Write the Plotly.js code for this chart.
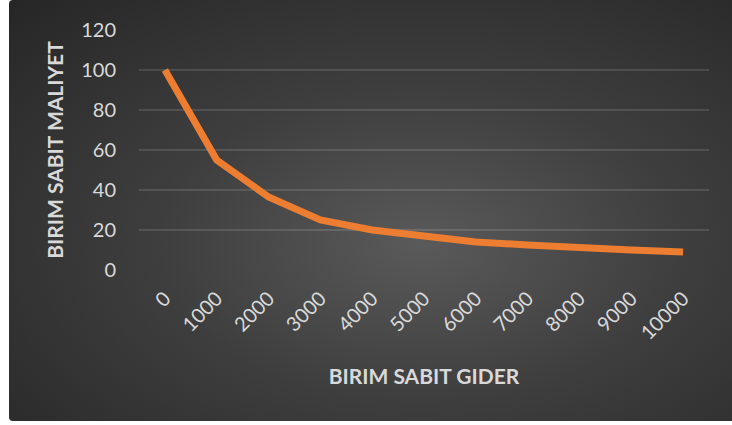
<!DOCTYPE html>
<html>
<head>
<meta charset="utf-8">
<script src="https://cdn.plot.ly/plotly-3.0.1.min.js"></script>
<style>
  html, body { margin: 0; padding: 0; background: #ffffff; }
  #bg { position: absolute; left: 9px; top: 0px; width: 723px; height: 421px;
        border-radius: 4px 0 0 4px;
        background: radial-gradient(ellipse farthest-corner at 57% 58%, #5a5a5a 0%, #3e3e3e 45%, #262626 100%); }
  #chart { position: absolute; left: 0; top: 0; width: 732px; height: 425px; }
</style>
</head>
<body>
<div id="bg"></div>
<div id="chart"></div>
<script>
const categories = ["0", "1000", "2000", "3000", "4000", "5000", "6000", "7000", "8000", "9000", "10000"];
const unitFixedCost = [100, 55, 36.5, 25, 20, 17, 14, 12.5, 11, 10, 9];
const yTickValues = [0, 20, 40, 60, 80, 100, 120];
const xTitle = "BIRIM SABIT GIDER";
const yTitle = "BIRIM SABIT MALIYET";

const textColor = "#d9d9d9";
const trace = {
  type: "scatter",
  mode: "lines",
  x: categories,
  y: unitFixedCost,
  line: { color: "#ED7D31", width: 7 },
  hoverinfo: "skip"
};

const layout = {
  width: 732,
  height: 425,
  paper_bgcolor: "rgba(0,0,0,0)",
  plot_bgcolor: "rgba(0,0,0,0)",
  margin: { l: 139, r: 23, t: 30, b: 155 },
  showlegend: false,
  font: { family: "Lato, 'Open Sans', sans-serif", color: textColor },
  xaxis: {
    type: "category",
    range: [-0.5, 10.5],
    showgrid: false,
    zeroline: false,
    showline: false,
    ticks: "",
    tickangle: -45,
    ticklabelstandoff: 12,
    tickfont: { size: 20, color: textColor },
    automargin: false,
    title: { text: xTitle, font: { size: 21, color: textColor, weight: "bold" }, standoff: 26 }
  },
  yaxis: {
    range: [0, 120],
    tickvals: yTickValues,
    showgrid: true,
    gridcolor: "rgba(255,255,255,0.12)",
    gridwidth: 1.6,
    zeroline: false,
    showline: false,
    ticks: "",
    ticklen: 0,
    ticklabelstandoff: 22,
    tickfont: { size: 20, color: textColor },
    automargin: false,
    title: { text: yTitle, font: { size: 21, color: textColor, weight: "bold" }, standoff: 11 }
  }
};

Plotly.newPlot("chart", [trace], layout, { displayModeBar: false, staticPlot: true });
</script>
</body>
</html>
